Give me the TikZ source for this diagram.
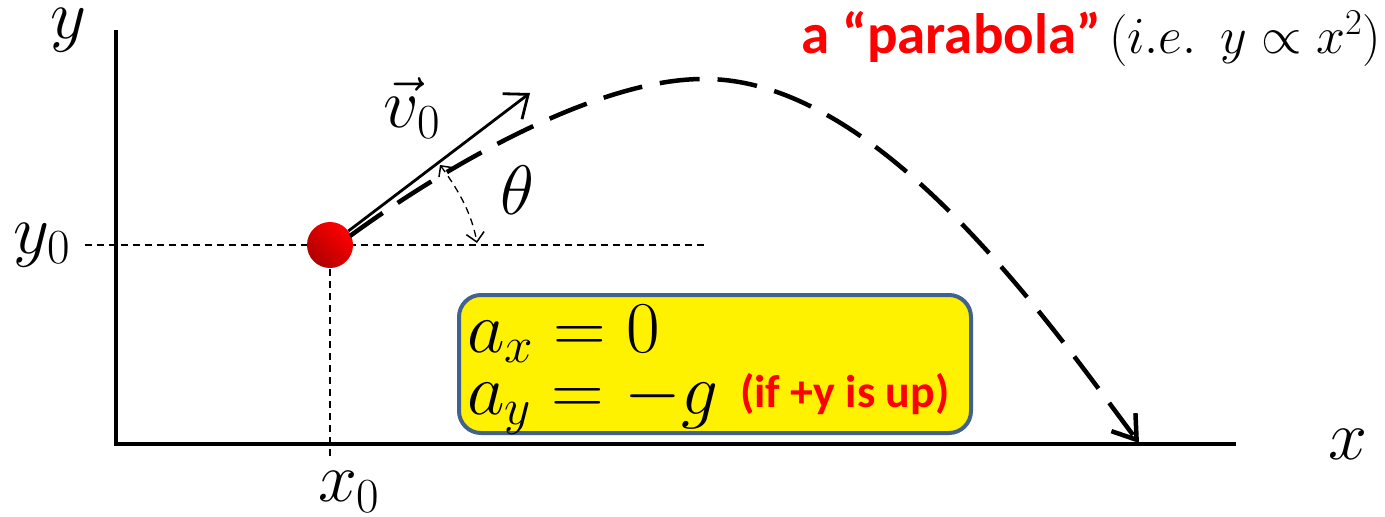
\RequirePackage{fix-cm}
\documentclass[tikz,border=0pt]{standalone}
\usepackage{fontspec}
\newfontfamily\calib{Carlito}
\usetikzlibrary{arrows.meta}
\definecolor{boxblue}{HTML}{41628E}
\definecolor{ballred}{HTML}{FF0000}
\definecolor{balldark}{HTML}{B00000}
\begin{document}
\begin{tikzpicture}[x=1pt,y=-1pt,
  axis/.style={line width=4pt},
  guide/.style={line width=1.3pt, dash pattern=on 7pt off 5pt},
  traj/.style={line width=4.5pt, dash pattern=on 40pt off 18pt},
  vel/.style={line width=2.8pt},
  mathlbl/.style={inner sep=0pt, font=\fontsize{70}{80}\selectfont},
  boxmath/.style={inner sep=0pt, font=\fontsize{73}{80}\selectfont},
  accbox/.style={draw=boxblue, line width=4pt, fill=yellow, rounded corners=22pt,
    minimum width=512pt, minimum height=138pt, inner sep=0pt},
]
\useasboundingbox (0,0) rectangle (1385,517);
% axes
\coordinate (ytop) at (116,30);
\coordinate (origin) at (116,444);
\coordinate (xend) at (1236,444);
\draw[axis] (ytop) -- (origin) -- (xend);
% guides
\coordinate (y0L) at (85,245);
\coordinate (y0R) at (707,245);
\coordinate (ballc) at (330,245);
\coordinate (x0B) at (330,460);
\draw[guide] (y0L) -- (y0R);
\draw[guide] (ballc) -- (x0B);
% ball
\node[circle, minimum size=46pt, inner sep=0pt, shading=axis,
  left color=balldark, right color=ballred, shading angle=135] (ball) at (ballc) {};
% trajectory
\coordinate (tstart) at (350,236);
\coordinate (peak) at (705,79);
\coordinate (tend) at (1139,443);
\draw[traj, -{Straight Barb[length=22pt,width=30pt]}] (tstart) .. controls (450,163) and (600,78) .. (peak)
  .. controls (880,79) and (1050,324) .. (tend);
% velocity
\coordinate (v0end) at (530,93);
\draw[vel, -{Straight Barb[length=20pt,width=32pt]}] (ball) -- (v0end);
% angle
\coordinate (thS) at (440,165);
\coordinate (thE) at (477,243);
\draw[guide, {Straight Barb[length=8pt,width=16pt,line width=1.5pt]}-{Straight Barb[length=9pt,width=18pt,line width=1.5pt]}]
  (thS) .. controls (460,192) and (472,215) .. (thE);
% labels
\node[mathlbl] (ylbl) at (68,30) {$y$};
\node[mathlbl] (xlbl) at (1348,444) {$x$};
\node[mathlbl] (y0lbl) at (42,245) {$y_0$};
\node[mathlbl] (x0lbl) at (349,492) {$x_0$};
\node[mathlbl] (v0lbl) at (412,108) {$\vec{v}_0$};
\node[mathlbl] (thlbl) at (517,190) {$\theta$};
% box
\node[accbox] (acc) at (715,364) {};
\node[boxmath, anchor=base west] (ax) at (467,352) {$a_x = 0$};
\node[boxmath, anchor=base west] (ay) at (467,414) {$a_y = -g$};
\node[inner sep=0pt, anchor=base west, text=red, font=\fontsize{46}{50}\selectfont\calib\bfseries] (note) at (740,407) {(if +y is up)};
% title
\node[inner sep=0pt, anchor=base west] (para) at (801,53)
  {\fontsize{57}{60}\selectfont\calib\bfseries\textcolor{red}{a “parabola”}\hspace{8pt}\fontsize{52}{60}\selectfont$(i.e.\ \ y\propto x^2)$};
\end{tikzpicture}
\end{document}
